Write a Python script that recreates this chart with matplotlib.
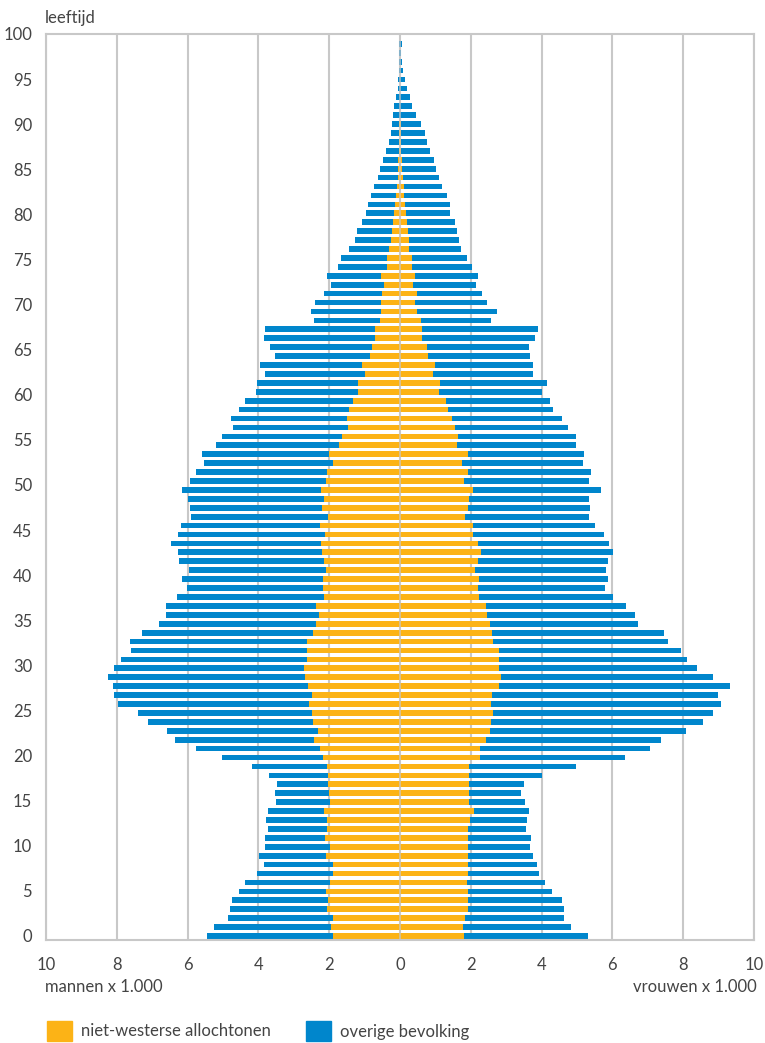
import numpy as np
import matplotlib
matplotlib.use("Agg")
import matplotlib.pyplot as plt
from matplotlib.patches import Patch

# leeftijd 0 t/m 100, waarden in duizendtallen
leeftijd = np.arange(0, 101)

mannen_totaal = [
    5.46, 5.26, 4.87, 4.81, 4.75, 4.56, 4.39, 4.05, 3.85, 3.99,
    3.82, 3.82, 3.74, 3.79, 3.74, 3.51, 3.54, 3.48, 3.71, 4.19,
    5.04, 5.75, 6.37, 6.57, 7.13, 7.39, 7.98, 8.07, 8.12, 8.24,
    8.09, 7.87, 7.61, 7.64, 7.30, 6.82, 6.62, 6.62, 6.31, 6.03,
    6.17, 5.97, 6.25, 6.28, 6.48, 6.28, 6.20, 5.89, 5.92, 6.00,
    6.17, 5.94, 5.75, 5.55, 5.58, 5.21, 5.04, 4.73, 4.78, 4.56,
    4.39, 4.08, 4.05, 3.82, 3.96, 3.54, 3.68, 3.85, 3.82, 2.43,
    2.52, 2.41, 2.15, 1.95, 2.07, 1.75, 1.67, 1.44, 1.27, 1.22,
    1.08, 0.96, 0.91, 0.82, 0.74, 0.62, 0.57, 0.48, 0.40, 0.31,
    0.25, 0.23, 0.20, 0.17, 0.11, 0.06, 0.06, 0.03, 0.03, 0.03,
    0.03,
]
mannen_nw = [
    1.90, 1.95, 1.90, 2.07, 2.04, 2.09, 1.98, 1.90, 1.90, 2.09,
    1.98, 2.12, 2.07, 2.07, 2.15, 1.98, 2.01, 2.04, 2.04, 2.07,
    2.18, 2.26, 2.43, 2.32, 2.46, 2.49, 2.58, 2.49, 2.60, 2.69,
    2.72, 2.63, 2.63, 2.63, 2.46, 2.38, 2.29, 2.38, 2.15, 2.18,
    2.18, 2.09, 2.15, 2.21, 2.24, 2.12, 2.26, 2.04, 2.21, 2.15,
    2.24, 2.09, 2.07, 1.90, 2.01, 1.73, 1.64, 1.47, 1.50, 1.44,
    1.33, 1.19, 1.19, 0.99, 1.08, 0.85, 0.79, 0.71, 0.71, 0.57,
    0.54, 0.54, 0.51, 0.45, 0.54, 0.37, 0.37, 0.31, 0.25, 0.23,
    0.20, 0.17, 0.14, 0.11, 0.08, 0.06, 0.06, 0.06, 0.03, 0.03,
    0.03, 0.03, 0.01, 0.01, 0.01, 0.01, 0.01, 0.01, 0.01, 0.01,
    0.01,
]
vrouwen_totaal = [
    5.30, 4.82, 4.62, 4.62, 4.59, 4.28, 4.11, 3.94, 3.86, 3.75,
    3.66, 3.69, 3.55, 3.58, 3.63, 3.52, 3.43, 3.49, 4.00, 4.96,
    6.35, 7.06, 7.37, 8.08, 8.56, 8.84, 9.07, 8.98, 9.32, 8.84,
    8.39, 8.10, 7.93, 7.57, 7.45, 6.72, 6.63, 6.38, 6.01, 5.78,
    5.87, 5.81, 5.87, 6.01, 5.90, 5.75, 5.50, 5.33, 5.36, 5.33,
    5.67, 5.33, 5.39, 5.16, 5.19, 4.96, 4.96, 4.74, 4.57, 4.31,
    4.23, 4.00, 4.14, 3.77, 3.77, 3.66, 3.63, 3.80, 3.89, 2.56,
    2.73, 2.47, 2.33, 2.16, 2.19, 2.02, 1.88, 1.71, 1.68, 1.62,
    1.54, 1.40, 1.40, 1.34, 1.20, 1.11, 1.03, 0.97, 0.86, 0.77,
    0.72, 0.60, 0.46, 0.35, 0.29, 0.21, 0.15, 0.09, 0.07, 0.04,
    0.07,
]
vrouwen_nw = [
    1.82, 1.79, 1.85, 1.91, 1.93, 1.91, 1.88, 1.91, 1.91, 1.93,
    1.91, 1.93, 1.93, 1.99, 2.08, 1.96, 1.96, 1.96, 1.96, 1.96,
    2.25, 2.25, 2.44, 2.53, 2.56, 2.64, 2.58, 2.61, 2.81, 2.84,
    2.81, 2.81, 2.81, 2.64, 2.61, 2.53, 2.47, 2.42, 2.22, 2.19,
    2.22, 2.13, 2.19, 2.30, 2.19, 2.05, 2.05, 1.85, 1.93, 1.96,
    2.05, 1.82, 1.93, 1.74, 1.93, 1.62, 1.65, 1.54, 1.48, 1.37,
    1.31, 1.11, 1.14, 0.94, 1.00, 0.80, 0.77, 0.63, 0.63, 0.58,
    0.49, 0.43, 0.49, 0.38, 0.43, 0.35, 0.35, 0.26, 0.26, 0.24,
    0.21, 0.18, 0.15, 0.12, 0.12, 0.09, 0.07, 0.07, 0.04, 0.04,
    0.04, 0.04, 0.01, 0.01, 0.01, 0.01, 0.01, 0.01, 0.01, 0.01,
    0.01,
]

x_ticks = [-10, -8, -6, -4, -2, 0, 2, 4, 6, 8, 10]
y_ticks = list(range(0, 101, 5))

mannen_nw = np.array(mannen_nw)
vrouwen_nw = np.array(vrouwen_nw)
mannen_overig = np.array(mannen_totaal) - mannen_nw
vrouwen_overig = np.array(vrouwen_totaal) - vrouwen_nw

oranje = "#FCB316"
blauw = "#0086CC"
grijs = "#c8c8c8"
tekst = "#444444"

plt.rcParams["font.family"] = ["Lato", "DejaVu Sans"]
fs = 12

fig = plt.figure(figsize=(7.65, 10.43), dpi=100)
ax = fig.add_axes([46 / 765, 1 - 940 / 1043, 708 / 765, 906 / 1043])

h = 0.64
ax.barh(leeftijd, -mannen_nw, height=h, color=oranje, zorder=2)
ax.barh(leeftijd, -mannen_overig, left=-mannen_nw, height=h, color=blauw, zorder=2)
ax.barh(leeftijd, vrouwen_nw, height=h, color=oranje, zorder=2)
ax.barh(leeftijd, vrouwen_overig, left=vrouwen_nw, height=h, color=blauw, zorder=2)

ax.set_xlim(-10, 10)
ax.set_ylim(-0.45, 101.1)

for x in x_ticks:
    ax.axvline(x, color=grijs, lw=1.5, zorder=1)
ax.axvline(0, color=grijs, lw=1.2, zorder=3, alpha=0.8)

ax.set_xticks(x_ticks)
ax.set_xticklabels([str(abs(v)) for v in x_ticks])
# labels staan in de bron iets hoger dan de balken
ax.set_yticks([t * 1.011 for t in y_ticks])
ax.set_yticklabels([str(t) for t in y_ticks])
ax.tick_params(axis="both", length=0, labelsize=fs, colors=tekst)
ax.tick_params(axis="x", pad=12)
ax.tick_params(axis="y", pad=10)

for s in ax.spines.values():
    s.set_color(grijs)
    s.set_linewidth(1.5)

fig.text(45 / 765, 1 - 18 / 1043, "leeftijd", fontsize=fs, color=tekst,
         ha="left", va="center")
fig.text(45 / 765, 1 - 987 / 1043, "mannen x 1.000", fontsize=fs, color=tekst,
         ha="left", va="center")
fig.text(757 / 765, 1 - 987 / 1043, "vrouwen x 1.000", fontsize=fs, color=tekst,
         ha="right", va="center")

handles = [Patch(color=oranje, label="niet-westerse allochtonen"),
           Patch(color=blauw, label="overige bevolking")]
fig.legend(handles=handles, loc="center left", bbox_to_anchor=(47 / 765, 1 - 1031 / 1043),
           ncol=2, frameon=False, fontsize=fs, labelcolor=tekst,
           handlelength=1.5, handleheight=1.5, handletextpad=0.55,
           columnspacing=2.1, borderpad=0, borderaxespad=0)

fig.savefig("out.png", dpi=100)
